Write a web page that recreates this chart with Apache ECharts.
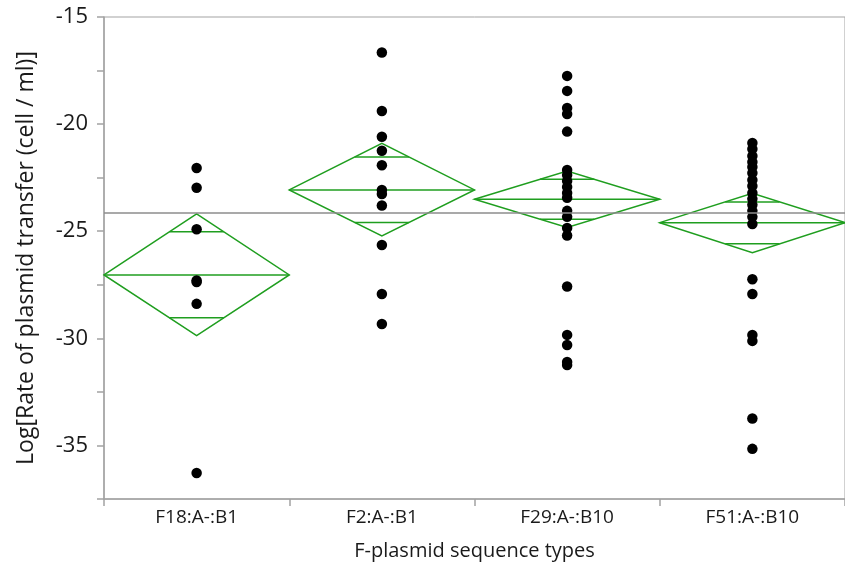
<!DOCTYPE html>
<html>
<head>
<meta charset="utf-8">
<script src="https://cdn.jsdelivr.net/npm/echarts@6/dist/echarts.min.js"></script>
<style>
  html, body { margin: 0; padding: 0; background: #fff; }
  #chart { width: 845px; height: 572px; }
</style>
</head>
<body>
<div id="chart"></div>
<script>
// groups on the x axis
var categories = ['F18:A-:B1', 'F2:A-:B1', 'F29:A-:B10', 'F51:A-:B10'];

// raw observations per group (log rate)
var f18Vals = [-22.05, -22.97, -24.91, -27.30, -27.37, -28.39, -36.29];
var f2Vals = [-16.66, -19.39, -20.59, -21.24, -21.92, -23.07, -23.26, -23.80, -25.64, -27.93, -29.33];
var f29Vals = [-17.75, -18.45, -19.25, -19.53, -20.35, -22.14, -22.38, -22.65, -22.93, -23.21, -23.44,
    -24.05, -24.33, -24.85, -25.20, -27.58, -29.84, -30.31, -31.10, -31.25];
var f51Vals = [-20.88, -21.16, -21.49, -21.77, -22.00, -22.28, -22.61, -22.89, -23.21, -23.49, -23.77,
    -24.05, -24.33, -24.66, -27.24, -27.93, -29.84, -30.12, -33.74, -35.16];

// means diamonds: group mean and 95% CI
var groupMeans = [-27.04, -23.07, -23.51, -24.60];
var ciUpper = [-24.19, -20.90, -22.19, -23.23];
var ciLower = [-29.87, -25.22, -24.83, -26.00];

var grandMean = -24.15;

var myChart = echarts.init(document.getElementById('chart'));

var groupVals = [f18Vals, f2Vals, f29Vals, f51Vals];
var points = [];
groupVals.forEach(function (vals, i) {
    vals.forEach(function (v) { points.push([categories[i], v]); });
});

var diamonds = categories.map(function (c, i) {
    return [i, groupMeans[i], ciLower[i], ciUpper[i]];
});

var green = '#1f9e1f';
var axisGray = '#a3a3a3';
var textColor = '#1a1a1a';
var font = 'Open Sans';

function renderDiamond(params, api) {
    var idx = api.value(0);
    var mean = api.coord([idx, api.value(1)]);
    var lo = api.coord([idx, api.value(2)]);
    var hi = api.coord([idx, api.value(3)]);
    var half = api.size([1, 0])[0] / 2;
    var cx = mean[0], cy = mean[1];
    // overlap marks sit at mean +/- CI/sqrt(2)
    var k = 1 / Math.SQRT2;
    var upY = cy - (cy - hi[1]) * k;
    var dnY = cy + (lo[1] - cy) * k;
    var w = half * (1 - k);
    var style = { stroke: green, lineWidth: 1.5, fill: null };
    return {
        type: 'group',
        children: [
            { type: 'polygon', shape: { points: [[cx - half, cy], [cx, hi[1]], [cx + half, cy], [cx, lo[1]]] }, style: style },
            { type: 'line', shape: { x1: cx - half, y1: cy, x2: cx + half, y2: cy }, style: style },
            { type: 'line', shape: { x1: cx - w, y1: upY, x2: cx + w, y2: upY }, style: style },
            { type: 'line', shape: { x1: cx - w, y1: dnY, x2: cx + w, y2: dnY }, style: style }
        ]
    };
}

option = {
    animation: false,
    grid: {
        left: 104,
        top: 17,
        width: 752,
        height: 482,
        show: true,
        borderColor: axisGray,
        borderWidth: 1
    },
    xAxis: {
        type: 'category',
        data: categories,
        boundaryGap: true,
        name: 'F-plasmid sequence types',
        nameLocation: 'middle',
        nameGap: 42,
        nameTextStyle: { fontFamily: font, fontSize: 20, color: textColor },
        axisLine: { lineStyle: { color: axisGray, width: 1.5 } },
        axisTick: { show: true, length: 7, alignWithLabel: false, lineStyle: { color: axisGray, width: 1.5 } },
        axisLabel: { fontFamily: font, fontSize: 19, color: textColor, margin: 9 },
        splitLine: { show: false }
    },
    yAxis: {
        type: 'value',
        min: -37.5,
        max: -15,
        interval: 2.5,
        name: 'Log[Rate of plasmid transfer (cell / ml)]',
        nameLocation: 'middle',
        nameGap: 66,
        nameTextStyle: { fontFamily: font, fontSize: 23, color: textColor },
        axisLine: { show: true, lineStyle: { color: axisGray, width: 1.5 } },
        axisTick: { show: true, length: 7, lineStyle: { color: axisGray, width: 1.5 } },
        axisLabel: {
            fontFamily: font, fontSize: 22, color: textColor, margin: 16,
            formatter: function (v) { return (v % 5 === 0) ? String(v) : ''; }
        },
        splitLine: { show: false }
    },
    series: [
        {
            type: 'custom',
            renderItem: renderDiamond,
            data: diamonds,
            encode: { x: 0, y: [1, 2, 3] },
            z: 2,
            silent: true,
            markLine: {
                silent: true,
                symbol: 'none',
                label: { show: false },
                lineStyle: { color: '#8c8c8c', width: 1.5, type: 'solid' },
                data: [{ yAxis: grandMean }]
            }
        },
        {
            type: 'scatter',
            data: points,
            symbolSize: 10.5,
            itemStyle: { color: '#000', opacity: 1 },
            z: 3
        }
    ]
};

myChart.setOption(option);
window.addEventListener("resize", function () {
    myChart.resize();
});
</script>
</body>
</html>
